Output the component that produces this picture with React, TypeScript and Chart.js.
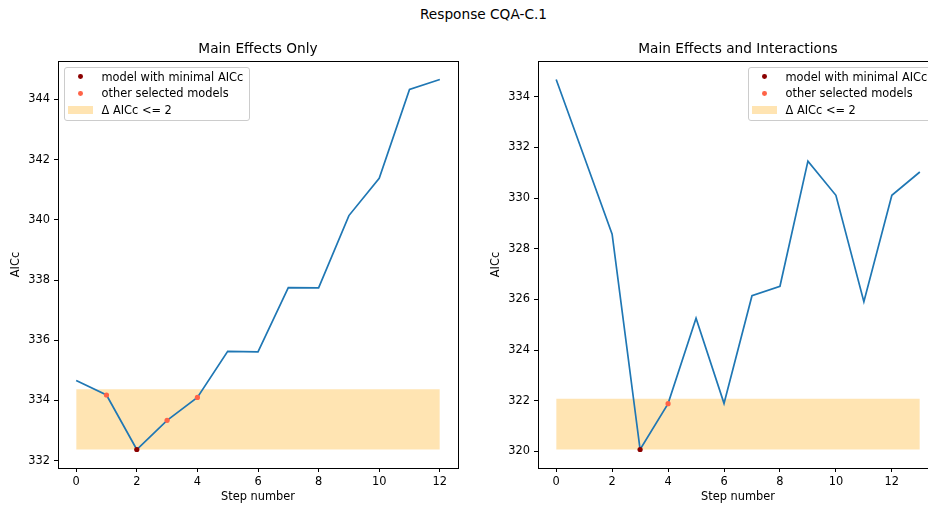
import React, { useEffect, useRef } from "react";
import { Chart, registerables } from "chart.js";

Chart.register(...registerables);

// ---------- data ----------
const FIG_TITLE = "Response CQA-C.1";
const LEFT_TITLE = "Main Effects Only";
const RIGHT_TITLE = "Main Effects and Interactions";
const X_LABEL = "Step number";
const Y_LABEL = "AICc";
const LEGEND_MIN = "model with minimal AICc";
const LEGEND_OTHER = "other selected models";
const LEGEND_BAND = "Δ AICc <= 2";
const DELTA_AICC = 2;

const leftSteps = [0, 1, 2, 3, 4, 5, 6, 7, 8, 9, 10, 11, 12];
const leftAICc = [334.66, 334.18, 332.37, 333.34, 334.1, 335.63, 335.61, 337.75, 337.74, 340.14, 341.38, 344.33, 344.66];
const leftMinStep = 2;
const leftOtherSteps = [1, 3, 4];
const leftXTicks = [0, 2, 4, 6, 8, 10, 12];
const leftYTicks = [332, 334, 336, 338, 340, 342, 344];

const rightSteps = [0, 1, 2, 3, 4, 5, 6, 7, 8, 9, 10, 11, 12, 13];
const rightAICc = [334.68, 331.63, 328.58, 320.08, 321.89, 325.26, 321.9, 326.15, 326.52, 331.46, 330.11, 325.91, 330.11, 331.03];
const rightMinStep = 3;
const rightOtherSteps = [4];
const rightXTicks = [0, 2, 4, 6, 8, 10, 12];
const rightYTicks = [320, 322, 324, 326, 328, 330, 332, 334];

// ---------- styles / layout ----------
const FONT = "'DejaVu Sans', sans-serif";
const SMALL = 11.4;
const LARGE = 13.7;
const LINE_BLUE = "#1f77b4";
const MIN_COLOR = "#8b0000";
const OTHER_COLOR = "#ff6347";
const BAND_COLOR = "rgba(255,165,0,0.3)";

const CANVAS_W = 470;
const CANVAS_H = 509;
const AREA_TOP = 61;
const Y_AXIS_W = 58;
const X_AXIS_H = 41;
const PAD_RIGHT = 12;

const framePlugin = {
  id: "frame",
  afterDraw(chart: any) {
    const { ctx, chartArea } = chart;
    const l = Math.round(chartArea.left) + 0.5;
    const t = Math.round(chartArea.top) + 0.5;
    const r = Math.round(chartArea.right) + 0.5;
    const b = Math.round(chartArea.bottom) + 0.5;
    ctx.save();
    ctx.strokeStyle = "#000";
    ctx.lineWidth = 1;
    ctx.strokeRect(l, t, r - l, b - t);
    ctx.restore();
  },
};

type PanelProps = {
  canvasLeft: number;
  steps: number[];
  values: number[];
  minStep: number;
  otherSteps: number[];
  xTicks: number[];
  yTicks: number[];
  title: string;
  legendSide: "left" | "right";
};

function Panel(p: PanelProps) {
  const ref = useRef<HTMLCanvasElement>(null);

  useEffect(() => {
    const canvas = ref.current!;
    const pts = p.steps.map((s, i) => ({ x: s, y: p.values[i] }));
    const minV = Math.min(...p.values);
    const maxV = Math.max(...p.values);
    const xMin = Math.min(...p.steps);
    const xMax = Math.max(...p.steps);
    const xPad = (xMax - xMin) * 0.05;
    const yLo = minV;
    const yHi = Math.max(maxV, minV + DELTA_AICC);
    const yPad = (yHi - yLo) * 0.05;

    const tickFont = { family: FONT, size: SMALL };
    const grid = {
      display: true,
      drawOnChartArea: false,
      drawTicks: true,
      tickLength: 4,
      color: "#000",
      lineWidth: 1,
    };

    const chart = new Chart(canvas, {
      type: "line",
      data: {
        datasets: [
          {
            label: LEGEND_MIN,
            data: pts.filter((d) => d.x === p.minStep),
            showLine: false,
            pointRadius: 2.6,
            pointBorderWidth: 0,
            pointBackgroundColor: MIN_COLOR,
            order: 0,
          },
          {
            label: LEGEND_OTHER,
            data: pts.filter((d) => p.otherSteps.includes(d.x)),
            showLine: false,
            pointRadius: 2.6,
            pointBorderWidth: 0,
            pointBackgroundColor: OTHER_COLOR,
            order: 0,
          },
          {
            label: "AICc",
            data: pts,
            borderColor: LINE_BLUE,
            borderWidth: 1.7,
            pointRadius: 0,
            tension: 0,
            fill: false,
            order: 1,
          },
          {
            label: LEGEND_BAND,
            data: [
              { x: xMin, y: minV + DELTA_AICC },
              { x: xMax, y: minV + DELTA_AICC },
            ],
            borderWidth: 0,
            borderColor: "rgba(0,0,0,0)",
            pointRadius: 0,
            backgroundColor: BAND_COLOR,
            fill: { value: minV },
            order: 2,
          },
        ],
      } as any,
      options: {
        animation: false,
        responsive: false,
        devicePixelRatio: 1,
        events: [],
        layout: { padding: { top: AREA_TOP, left: 0, right: PAD_RIGHT, bottom: 0 } },
        plugins: {
          legend: { display: false },
          tooltip: { enabled: false },
          title: { display: false },
        },
        scales: {
          x: {
            type: "linear",
            min: xMin - xPad,
            max: xMax + xPad,
            afterBuildTicks: (s: any) => {
              s.ticks = p.xTicks.map((v) => ({ value: v }));
            },
            afterFit: (s: any) => {
              s.height = X_AXIS_H;
            },
            grid,
            border: { display: false },
            ticks: {
              color: "#000",
              font: tickFont,
              padding: 3,
              maxRotation: 0,
              autoSkip: false,
              callback: (v: any) => String(v),
            },
            title: {
              display: true,
              text: X_LABEL,
              color: "#000",
              font: tickFont,
              padding: { top: 0, bottom: 5 },
            },
          },
          y: {
            type: "linear",
            min: yLo - yPad,
            max: yHi + yPad,
            afterBuildTicks: (s: any) => {
              s.ticks = p.yTicks.map((v) => ({ value: v }));
            },
            afterFit: (s: any) => {
              s.width = Y_AXIS_W;
            },
            grid,
            border: { display: false },
            ticks: {
              color: "#000",
              font: tickFont,
              padding: 4,
              autoSkip: false,
              callback: (v: any) => String(v),
            },
            title: {
              display: true,
              text: Y_LABEL,
              color: "#000",
              font: tickFont,
              padding: { top: 9, bottom: 0 },
            },
          },
        },
      } as any,
      plugins: [framePlugin],
    });
    return () => chart.destroy();
  }, []);

  const areaLeft = p.canvasLeft + Y_AXIS_W;
  const areaRight = p.canvasLeft + CANVAS_W - PAD_RIGHT;
  const legendW = 186;
  const legendLeft = p.legendSide === "left" ? areaLeft + 6 : areaRight - 4 - legendW;
  const legendTop = AREA_TOP + 6;
  const rows = [
    { kind: "dot", color: MIN_COLOR, text: LEGEND_MIN },
    { kind: "dot", color: OTHER_COLOR, text: LEGEND_OTHER },
    { kind: "patch", color: BAND_COLOR, text: LEGEND_BAND },
  ];

  return (
    <>
      <canvas
        ref={ref}
        width={CANVAS_W}
        height={CANVAS_H}
        style={{ position: "absolute", left: p.canvasLeft, top: 0, width: CANVAS_W, height: CANVAS_H }}
      />
      <div
        style={{
          position: "absolute",
          left: (areaLeft + areaRight) / 2 - 200,
          width: 400,
          top: 40,
          height: 16,
          lineHeight: "16px",
          textAlign: "center",
          fontFamily: FONT,
          fontSize: LARGE,
          color: "#000",
          whiteSpace: "nowrap",
        }}
      >
        {p.title}
      </div>
      <div
        style={{
          position: "absolute",
          left: legendLeft,
          top: legendTop,
          width: legendW,
          height: 54,
          boxSizing: "border-box",
          border: "1px solid #cccccc",
          borderRadius: 3,
          background: "rgba(255,255,255,0.8)",
          fontFamily: FONT,
          fontSize: SMALL,
          color: "#000",
        }}
      >
        {rows.map((r, i) => {
          const cy = 9.7 + i * 16.65;
          return (
            <React.Fragment key={i}>
              {r.kind === "dot" ? (
                <div
                  style={{
                    position: "absolute",
                    left: 16.5 - 2.4 - 1,
                    top: cy - 2.4 - 1,
                    width: 4.8,
                    height: 4.8,
                    borderRadius: "50%",
                    background: r.color,
                  }}
                />
              ) : (
                <div
                  style={{
                    position: "absolute",
                    left: 3.3,
                    top: cy - 4.2 - 1,
                    width: 24.4,
                    height: 8.4,
                    background: r.color,
                  }}
                />
              )}
              <div
                style={{
                  position: "absolute",
                  left: 36.5,
                  top: cy - 8 - 1,
                  height: 16,
                  lineHeight: "16px",
                  whiteSpace: "nowrap",
                }}
              >
                {r.text}
              </div>
            </React.Fragment>
          );
        })}
      </div>
    </>
  );
}

export default function App() {
  return (
    <div
      style={{
        position: "absolute",
        left: 0,
        top: 0,
        width: 928,
        height: 509,
        overflow: "hidden",
        background: "#fff",
      }}
    >
      <div
        style={{
          position: "absolute",
          left: 483.5 - 200,
          width: 400,
          top: 6.3,
          height: 16,
          lineHeight: "16px",
          textAlign: "center",
          fontFamily: FONT,
          fontSize: LARGE,
          color: "#000",
          whiteSpace: "nowrap",
        }}
      >
        {FIG_TITLE}
      </div>
      <Panel
        canvasLeft={0}
        steps={leftSteps}
        values={leftAICc}
        minStep={leftMinStep}
        otherSteps={leftOtherSteps}
        xTicks={leftXTicks}
        yTicks={leftYTicks}
        title={LEFT_TITLE}
        legendSide="left"
      />
      <Panel
        canvasLeft={480}
        steps={rightSteps}
        values={rightAICc}
        minStep={rightMinStep}
        otherSteps={rightOtherSteps}
        xTicks={rightXTicks}
        yTicks={rightYTicks}
        title={RIGHT_TITLE}
        legendSide="right"
      />
    </div>
  );
}
